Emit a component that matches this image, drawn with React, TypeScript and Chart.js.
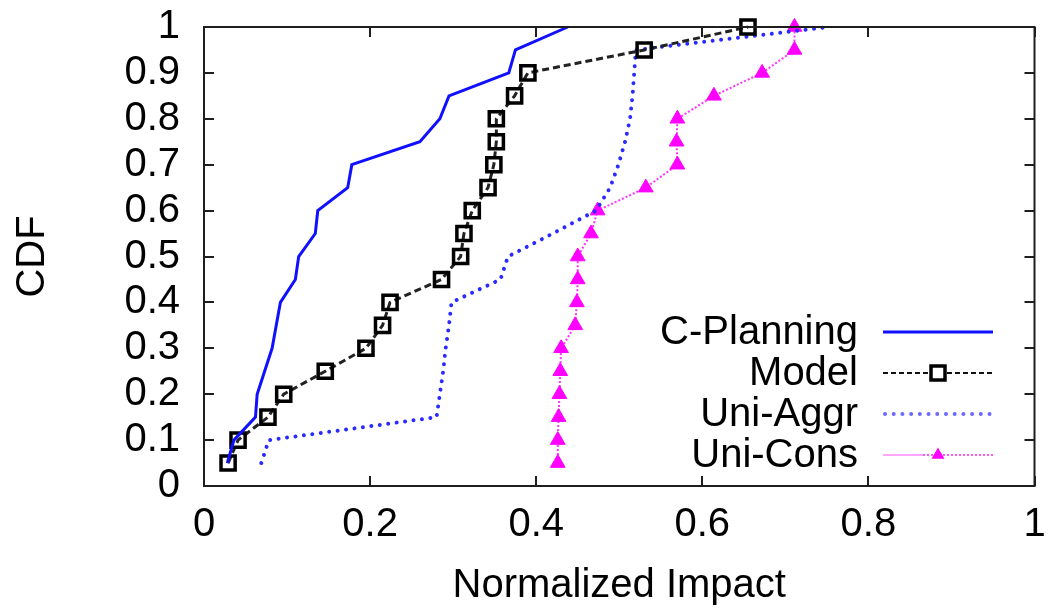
import React, { useEffect, useRef } from 'react';
import { Chart, registerables } from 'chart.js';

Chart.register(...registerables);

// ---- data ----
const cdfLevels = [0.05, 0.1, 0.15, 0.2, 0.25, 0.3, 0.35, 0.4, 0.45, 0.5, 0.55, 0.6, 0.65, 0.7, 0.75, 0.8, 0.85, 0.9, 0.95, 1.0];
const cPlanningImpact = [0.028, 0.036, 0.062, 0.064, 0.073, 0.082, 0.087, 0.092, 0.110, 0.114, 0.134, 0.137, 0.173, 0.178, 0.260, 0.284, 0.295, 0.367, 0.375, 0.438];
const modelImpact = [0.029, 0.041, 0.077, 0.096, 0.146, 0.195, 0.215, 0.224, 0.286, 0.309, 0.313, 0.323, 0.342, 0.349, 0.352, 0.352, 0.374, 0.390, 0.530, 0.655];
const uniAggrImpact = [0.069, 0.078, 0.280, 0.284, 0.288, 0.291, 0.295, 0.298, 0.357, 0.366, 0.420, 0.472, 0.489, 0.499, 0.507, 0.513, 0.516, 0.518, 0.520, 0.753];
const uniConsImpact = [0.426, 0.426, 0.427, 0.428, 0.429, 0.430, 0.447, 0.449, 0.450, 0.450, 0.466, 0.474, 0.532, 0.570, 0.569, 0.570, 0.614, 0.672, 0.711, 0.711];
const seriesNames = ['C-Planning', 'Model', 'Uni-Aggr', 'Uni-Cons'];
const xTitle = 'Normalized Impact';
const yTitle = 'CDF';

const FONT = '"Liberation Sans", Arial, Helvetica, sans-serif';

const toPoints = (xs: number[]) => xs.map((x, i) => ({ x, y: cdfLevels[i] }));
const fmtTick = (v: any) => String(Number(Number(v).toFixed(1)));

const framePlugin = {
  id: 'gnuplotFrame',
  afterDatasetsDraw(chart: any) {
    const { ctx, chartArea, scales } = chart;
    const { left, right, top, bottom } = chartArea;
    const xs = scales.x;
    const ys = scales.y;
    const tl = 10;
    ctx.save();
    ctx.strokeStyle = '#1e1e1e';
    ctx.lineWidth = 2;
    ctx.strokeRect(left, top, right - left, bottom - top);
    ctx.beginPath();
    xs.ticks.forEach((t: any) => {
      const px = Math.round(xs.getPixelForValue(t.value));
      ctx.moveTo(px, bottom);
      ctx.lineTo(px, bottom - tl);
      ctx.moveTo(px, top);
      ctx.lineTo(px, top + tl);
    });
    ys.ticks.forEach((t: any) => {
      const py = Math.round(ys.getPixelForValue(t.value));
      ctx.moveTo(left, py);
      ctx.lineTo(left + tl, py);
      ctx.moveTo(right, py);
      ctx.lineTo(right - tl, py);
    });
    ctx.stroke();
    ctx.restore();
  },
};

const legendPlugin = {
  id: 'gnuplotLegend',
  afterDraw(chart: any) {
    const { ctx } = chart;
    const rows = [332, 373, 414, 455];
    const textRight = 858;
    const x0 = 883;
    const x1 = 993;
    const xm = 938;
    ctx.save();
    ctx.font = `40px ${FONT}`;
    ctx.textAlign = 'right';
    ctx.textBaseline = 'middle';
    ctx.fillStyle = '#000';
    chart.data.datasets.forEach((ds: any, i: number) => {
      ctx.fillText(ds.label, textRight, rows[i] + 1);
    });

    // C-Planning
    let y = rows[0];
    ctx.strokeStyle = '#1010ff';
    ctx.lineWidth = 3;
    ctx.setLineDash([]);
    ctx.beginPath();
    ctx.moveTo(x0, y);
    ctx.lineTo(x1, y);
    ctx.stroke();

    // Model
    y = rows[1];
    ctx.strokeStyle = '#111';
    ctx.lineWidth = 2;
    ctx.setLineDash([5, 3]);
    ctx.beginPath();
    ctx.moveTo(x0, y);
    ctx.lineTo(x1, y);
    ctx.stroke();
    ctx.setLineDash([]);
    ctx.lineWidth = 3.5;
    ctx.strokeStyle = '#000';
    ctx.fillStyle = '#fff';
    ctx.fillRect(xm - 7, y - 7, 14, 14);
    ctx.strokeRect(xm - 7, y - 7, 14, 14);

    // Uni-Aggr
    y = rows[2];
    ctx.strokeStyle = '#6a6aff';
    ctx.lineWidth = 4;
    ctx.lineCap = 'round';
    ctx.setLineDash([0.01, 8.7]);
    ctx.beginPath();
    ctx.moveTo(x0 + 2, y);
    ctx.lineTo(x1, y);
    ctx.stroke();
    ctx.lineCap = 'butt';

    // Uni-Cons
    y = rows[3];
    ctx.setLineDash([]);
    ctx.strokeStyle = '#ffa6ff';
    ctx.lineWidth = 2;
    ctx.beginPath();
    ctx.moveTo(x0, y);
    ctx.lineTo(923, y);
    ctx.stroke();
    ctx.setLineDash([2, 2]);
    ctx.strokeStyle = '#ff55ff';
    ctx.beginPath();
    ctx.moveTo(923, y);
    ctx.lineTo(x1, y);
    ctx.stroke();
    ctx.setLineDash([]);
    ctx.fillStyle = '#ff00ff';
    ctx.beginPath();
    const r = 7.5;
    ctx.moveTo(xm, y - r);
    ctx.lineTo(xm + r * Math.sin((2 * Math.PI) / 3), y - r * Math.cos((2 * Math.PI) / 3));
    ctx.lineTo(xm + r * Math.sin((4 * Math.PI) / 3), y - r * Math.cos((4 * Math.PI) / 3));
    ctx.closePath();
    ctx.fill();
    ctx.restore();
  },
};

export default function App() {
  const canvasRef = useRef<HTMLCanvasElement | null>(null);

  useEffect(() => {
    document.body.style.margin = '0';
    const canvas = canvasRef.current;
    if (!canvas) return;
    const tickFont = { family: FONT, size: 40 };
    const chart = new Chart(canvas, {
      type: 'scatter',
      data: {
        datasets: [
          {
            label: seriesNames[0],
            data: toPoints(cPlanningImpact),
            showLine: true,
            borderColor: '#1010ff',
            borderWidth: 3,
            pointRadius: 0,
            pointHoverRadius: 0,
            clip: false,
          },
          {
            label: seriesNames[1],
            data: toPoints(modelImpact),
            showLine: true,
            borderColor: '#222222',
            borderWidth: 3,
            borderDash: [7, 4],
            pointStyle: 'rect',
            pointRadius: 10,
            pointBorderWidth: 3.5,
            pointBorderColor: '#000000',
            pointBackgroundColor: 'rgba(255,255,255,0)',
            clip: false,
          },
          {
            label: seriesNames[2],
            data: toPoints(uniAggrImpact),
            showLine: true,
            borderColor: '#2a2aff',
            borderWidth: 4,
            borderCapStyle: 'round',
            borderDash: [0.01, 8.5],
            pointRadius: 0,
            pointHoverRadius: 0,
            clip: false,
          },
          {
            label: seriesNames[3],
            data: toPoints(uniConsImpact),
            showLine: true,
            borderColor: '#ff33ff',
            borderWidth: 2,
            borderDash: [2, 2],
            pointStyle: 'triangle',
            pointRadius: 8.5,
            pointBorderWidth: 1,
            pointBorderColor: '#ff00ff',
            pointBackgroundColor: '#ff00ff',
            clip: false,
          },
        ],
      },
      options: {
        responsive: false,
        animation: false,
        devicePixelRatio: 1,
        layout: { padding: { left: 0, right: 10, top: 27, bottom: 0 } },
        plugins: {
          legend: { display: false },
          tooltip: { enabled: false },
        },
        scales: {
          x: {
            type: 'linear',
            min: 0,
            max: 1,
            grid: { display: false, drawTicks: false },
            border: { display: false },
            ticks: {
              stepSize: 0.2,
              autoSkip: false,
              maxRotation: 0,
              padding: 15,
              color: '#000',
              font: tickFont,
              callback: fmtTick,
            },
            title: {
              display: true,
              text: xTitle,
              color: '#000',
              font: tickFont,
              padding: { top: 0, bottom: 0 },
            },
            afterFit(scale: any) {
              scale.height = 124;
              scale.paddingLeft = 0;
              scale.paddingRight = 0;
            },
          },
          y: {
            type: 'linear',
            min: 0,
            max: 1,
            grid: { display: false, drawTicks: false },
            border: { display: false },
            ticks: {
              stepSize: 0.1,
              autoSkip: false,
              padding: 24,
              color: '#000',
              font: tickFont,
              callback: fmtTick,
            },
            title: {
              display: true,
              text: yTitle,
              color: '#000',
              font: tickFont,
              padding: { top: 9, bottom: 0 },
            },
            afterFit(scale: any) {
              scale.width = 204;
              scale.paddingTop = 0;
              scale.paddingBottom = 0;
            },
          },
        },
      },
      plugins: [framePlugin, legendPlugin],
    });
    return () => {
      chart.destroy();
    };
  }, []);

  return (
    <div style={{ width: 1048, height: 610, background: '#fff' }}>
      <canvas ref={canvasRef} width={1048} height={610} style={{ display: 'block' }} />
    </div>
  );
}
